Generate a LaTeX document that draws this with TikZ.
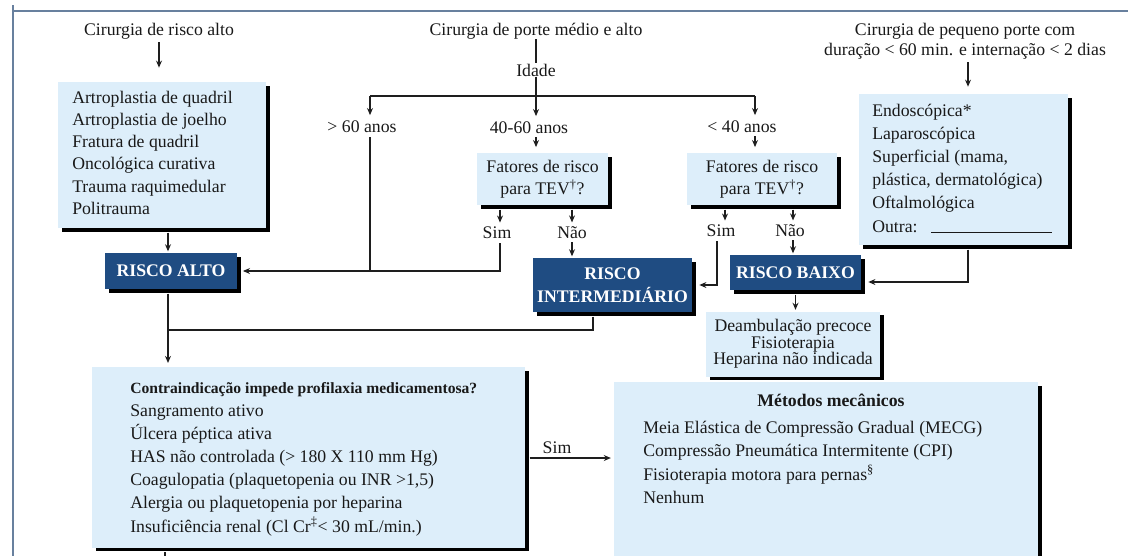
\documentclass[tikz,border=0pt]{standalone}
\usepackage{fontspec}
\setmainfont{Liberation Serif}
\usetikzlibrary{shadows,arrows.meta,calc}
\definecolor{lightb}{RGB}{221,238,250}
\definecolor{darkb}{RGB}{31,76,130}
\definecolor{framec}{RGB}{104,128,158}
\definecolor{txt}{RGB}{25,25,25}
\definecolor{linec}{RGB}{30,30,30}
\newcommand\fmain{\fontsize{12.6}{15.6}\selectfont}
\begin{document}
\begin{tikzpicture}[x=0.025cm,y=-0.025cm,
  lbox/.style={fill=lightb, inner sep=0pt, drop shadow={shadow xshift=2.6pt, shadow yshift=-2.6pt, fill=black, opacity=1}},
  dbox/.style={fill=darkb, text=white, inner sep=0pt, align=center, font=\fontsize{12.6}{16.4}\selectfont\bfseries, drop shadow={shadow xshift=2.6pt, shadow yshift=-2.6pt, fill=black, opacity=1}},
  lbl/.style={text=txt, inner sep=0pt, font=\fmain},
  lst/.style={lbl, align=left, anchor=base west},
  arr/.style={draw=linec, line width=0.9pt, -{Stealth[length=5pt,width=4.2pt]}},
  ln/.style={draw=linec, line width=0.9pt}]
\useasboundingbox (0,0) rectangle (1128,555);
\fill[white] (0,0) rectangle (1128,555);
% frame
\draw[framec, line width=2pt] (13,5) -- (13,560);
\draw[framec, line width=2pt] (12,11) -- (1130,11);

% helper coordinates
\coordinate (xA) at (168,0);
\coordinate (hL) at (370,96);
\coordinate (hM) at (536,96);
\coordinate (hR) at (755,96);
\coordinate (xSL) at (500,0);
\coordinate (xNL) at (572,0);
\coordinate (xSR) at (725,0);
\coordinate (xSV) at (717,0);
\coordinate (xNR) at (793,0);
\coordinate (xE) at (968,0);
\coordinate (yB) at (0,282);
\coordinate (xI) at (593,0);
\coordinate (yI) at (0,330);
\coordinate (yC) at (0,458);
\coordinate (tail) at (165,562);

% left column
\node[lbl] (t1) at (159,31) {Cirurgia de risco alto};
\node[lbox, minimum width=5.2cm, minimum height=3.65cm] (b1) at (162,155) {};
\node[lst, font=\fontsize{12.6}{15.65}\selectfont] (b1t) at (72,214) {Artroplastia de quadril\\Artroplastia de joelho\\Fratura de quadril\\Oncológica curativa\\Trauma raquimedular\\Politrauma};
\node[dbox, minimum width=3.3cm, minimum height=0.9cm] (ra) at (171,271) {RISCO ALTO};

% middle column
\node[lbl] (t2) at (536,31) {Cirurgia de porte médio e alto};
\node[lbl] (idade) at (536,70) {Idade};
\node[lbl] (g60) at (362,127) {> 60 anos};
\node[lbl] (a40) at (529,128) {40-60 anos};
\node[lbl] (l40) at (742,127) {< 40 anos};
\node[lbox, minimum width=3.275cm, minimum height=1.3cm, align=center, font=\fontsize{12.6}{15.65}\selectfont, text=txt] (fatL) at (542.5,179) {Fatores de risco\\para TEV\textsuperscript{†}?};
\node[lbox, minimum width=3.75cm, minimum height=1.3cm, align=center, font=\fontsize{12.6}{15.65}\selectfont, text=txt] (fatR) at (762,179) {Fatores de risco\\para TEV\textsuperscript{†}?};
\node[lbl] (simL) at (497,233) {Sim};
\node[lbl] (naoL) at (572,233) {Não};
\node[lbl] (simR) at (721,231) {Sim};
\node[lbl] (naoR) at (790,231) {Não};
\node[dbox, minimum width=3.975cm, minimum height=1.35cm] (rint) at (612.5,285) {RISCO\\INTERMEDIÁRIO};
\node[dbox, minimum width=3.275cm, minimum height=0.875cm] (rb) at (795.5,272.5) {RISCO BAIXO};
\node[lbox, minimum width=4.35cm, minimum height=1.625cm, align=center, font=\fontsize{12.6}{11.7}\selectfont, text=txt] (deamb) at (793,344) {Deambulação precoce\\Fisioterapia\\Heparina não indicada};

% right column
\node[lbl, align=center, font=\fontsize{12.6}{14.2}\selectfont] (t3) at (965,41) {Cirurgia de pequeno porte com\\duração < 60 min. e internação < 2 dias};
\node[lbox, minimum width=5.225cm, minimum height=3.775cm] (endo) at (963.5,169.5) {};
\node[lst, font=\fontsize{12.6}{16.4}\selectfont] (endot) at (872,232) {Endoscópica*\\Laparoscópica\\Superficial (mama,\\plástica, dermatológica)\\Oftalmológica\\Outra: \hspace{0.2cm}\rule[-0.5pt]{3cm}{0.7pt}};

% bottom
\node[lbox, minimum width=10.825cm, minimum height=4.5cm] (contra) at (308.5,457.5) {};
\node[lst, font=\fontsize{12.6}{16.4}\selectfont] (contrat) at (130,532) {{\fontsize{11.1}{16.4}\selectfont\bfseries Contraindicação impede profilaxia medicamentosa?}\\Sangramento ativo\\Úlcera péptica ativa\\HAS não controlada (> 180 X 110 mm Hg)\\Coagulopatia (plaquetopenia ou INR >1,5)\\Alergia ou plaquetopenia por heparina\\Insuficiência renal (Cl Cr\textsuperscript{‡}< 30 mL/min.)};
\node[lbox, minimum width=10.6cm, minimum height=4.95cm] (met) at (826,481) {};
\node[lbl, anchor=base, font=\fontsize{12.6}{15}\selectfont\bfseries] (mtit) at (831,406) {Métodos mecânicos};
\node[lst, font=\fontsize{12.6}{16.7}\selectfont] (mlist) at (643,503.5) {Meia Elástica de Compressão Gradual (MECG)\\Compressão Pneumática Intermitente (CPI)\\Fisioterapia motora para pernas\textsuperscript{§}\\Nenhum};
\node[lbl] (simC) at (557,448) {Sim};

% connectors
\draw[arr, shorten <=2pt, shorten >=10pt] (t1) -- (t1 |- b1.north);
\draw[arr, shorten <=3pt, shorten >=1pt] (b1.south -| xA) -- (ra.north -| xA);
\draw[ln] (t2) -- (idade);
\draw[ln] (idade) -- (hM);
\draw[ln] (hL) -- (hR);
\draw[arr, shorten >=4pt] (hL) -- (g60.north -| hL);
\draw[arr, shorten >=4pt] (hM) -- (a40.north -| hM);
\draw[arr, shorten >=4pt] (hR) -- (l40.north -| hR);
\draw[arr, shorten <=2pt, shorten >=4pt] (a40.south -| hM) -- (fatL.north -| hM);
\draw[arr, shorten <=2pt, shorten >=4pt] (l40.south -| hR) -- (fatR.north -| hR);
\draw[arr, shorten <=3pt, shorten >=3pt] (fatL.south -| xSL) -- (simL.north -| xSL);
\draw[arr, shorten <=3pt, shorten >=3pt] (fatL.south -| xNL) -- (naoL.north -| xNL);
\draw[arr, shorten <=3pt, shorten >=3pt] (fatR.south -| xSR) -- (simR.north -| xSR);
\draw[arr, shorten <=3pt, shorten >=3pt] (fatR.south -| xNR) -- (naoR.north -| xNR);
\draw[arr, shorten <=2pt, shorten >=1pt] (naoL.south -| xNL) -- (rint.north -| xNL);
\draw[arr, shorten <=2pt, shorten >=1pt] (naoR.south -| xNR) -- (rb.north -| xNR);
\draw[ln, shorten <=3pt] (g60.south -| hL) -- (hL |- ra.east);
\draw[arr, shorten <=3pt, shorten >=4pt] (simL.south -| xSL) -- (xSL |- ra.east) -- (ra.east);
\draw[arr, shorten <=3pt, shorten >=5pt] (simR.south -| xSV) -- (xSV |- rint.east) -- (rint.east);
\draw[arr, shorten <=2pt, shorten >=5pt] (t3.south -| xE) -- (endo.north -| xE);
\draw[arr, shorten <=3pt, shorten >=5pt] (endo.south -| xE) -- (xE |- yB) -- (rb.east |- yB);
\draw[arr, shorten <=3pt, shorten >=1pt] (rb.south) -- (rb.south |- deamb.north);
\draw[ln, shorten <=3pt] (rint.south -| xI) -- (xI |- yI) -- (xA |- yI);
\draw[arr, shorten <=3pt, shorten >=3pt] (ra.south -| xA) -- (contra.north -| xA);
\draw[arr, shorten <=3pt, shorten >=2pt] (contra.east |- yC) -- (met.west |- yC);
\draw[ln, shorten <=3pt] (contra.south -| tail) -- (tail);
\end{tikzpicture}
\end{document}
